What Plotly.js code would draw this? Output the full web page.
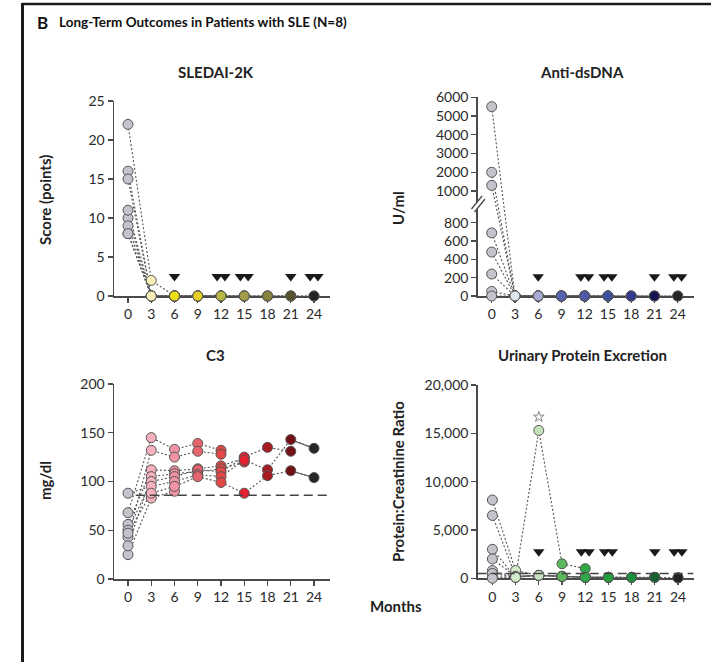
<!DOCTYPE html>
<html><head><meta charset="utf-8">
<script src="https://cdn.plot.ly/plotly-3.0.1.min.js"></script>
<style>body{margin:0;background:#fff}#chart{width:711px;height:662px}</style>
</head><body><div id="chart"></div><script>
// ---- data ----
const months = [0, 3, 6, 9, 12, 15, 18, 21, 24];
const endMonths = [6, 12, 12, 15, 15, 21, 24, 24]; // last follow-up per patient (triangles)

// SLEDAI-2K score per patient (values at months 0,3,6,...)
const sledai = [
  [8, 0, 0],
  [10, 0, 0, 0, 0],
  [16, 0, 0, 0, 0],
  [22, 2, 0, 0, 0, 0],
  [15, 0, 0, 0, 0, 0],
  [11, 0, 0, 0, 0, 0, 0, 0],
  [9, 0, 0, 0, 0, 0, 0, 0, 0],
  [8, 0, 0, 0, 0, 0, 0, 0, 0]
];
// Anti-dsDNA U/ml
const dsdna = [
  [240, 0, 0],
  [5500, 0, 0, 0, 0],
  [50, 0, 0, 0, 0],
  [2000, 0, 0, 0, 0, 0],
  [690, 0, 0, 0, 0, 0],
  [1300, 0, 0, 0, 0, 0, 0, 0],
  [480, 0, 0, 0, 0, 0, 0, 0, 0],
  [0, 0, 0, 0, 0, 0, 0, 0, 0]
];
// C3 mg/dl
const c3 = [
  [25, 83, 90],
  [68, 145, 133, 139, 132],
  [43, 132, 125, 131, 128],
  [56, 112, 111, 113, 116, 124],
  [34, 105, 108, 110, 113, 120],
  [50, 100, 105, 112, 110, 125, 135, 131],
  [88, 95, 100, 107, 105, 122, 112, 143, 134],
  [47, 88, 95, 105, 99, 88, 106, 111, 104]
];
// Urinary protein:creatinine ratio
const upcr = [
  [3000, 100, 300],
  [800, 150, 15300, 1500, 1000],
  [100, 200, 300, 200, 100],
  [8100, 800, 300, 200, 100, 100],
  [6500, 200, 300, 200, 100, 100],
  [2000, 200, 300, 200, 100, 100, 100, 100],
  [500, 150, 300, 200, 100, 100, 100, 100, 50],
  [0, 100, 300, 200, 100, 100, 100, 100, 50]
];
const c3Normal = 86;
const upcrNormal = 500;
const starMonth = [6];
const starValue = [16700];

const dsTicks = [0, 200, 400, 600, 800, 1000, 2000, 3000, 4000, 5000, 6000];
const c3Ticks = [0, 50, 100, 150, 200];
const sledaiTicks = [0, 5, 10, 15, 20, 25];
const upcrTicks = [0, 5000, 10000, 15000, 20000];

// ---- colours per month ----
const sledaiColors = ['#c4c4cc', '#f7f1b9', '#ece014', '#e5cf22', '#b8b642', '#a29e47', '#86833f', '#5a5230', '#222222'];
const dsdnaColors  = ['#c4c4cc', '#dfe6f2', '#a9a9d6', '#5563b1', '#5059a7', '#3f4fa2', '#34398f', '#14144f', '#252525'];
const c3Colors     = ['#c4c4cc', '#f6b0be', '#f093a4', '#e8646c', '#e14846', '#e4222f', '#a81c22', '#741116', '#262626'];
const upcrColors   = ['#c4c4cc', '#d2ecca', '#c4e3bc', '#5cb85c', '#30a848', '#22a040', '#1d9040', '#1a6030', '#222222'];

// broken-axis transform for anti-dsDNA
function dsY(v) { return v <= 900 ? v : 1147.5 + (v - 1000) * 0.2048; }

const W = 711, H = 662;
const px = p => p / W, py = p => 1 - p / H;
const FONT = 'Lato, "Open Sans", sans-serif';

const traces = [];
function addPanel(data, colors, xa, ya, tf) {
  tf = tf || (v => v);
  data.forEach(vals => {
    traces.push({
      x: months.slice(0, vals.length), y: vals.map(tf), xaxis: xa, yaxis: ya,
      mode: 'lines', line: {color: '#555', width: 1.1, dash: '2px,2px'},
      hoverinfo: 'skip', showlegend: false, cliponaxis: false
    });
  });
}
function addMarkers(data, colors, xa, ya, tf) {
  tf = tf || (v => v);
  data.forEach(vals => {
    traces.push({
      x: months.slice(0, vals.length), y: vals.map(tf), xaxis: xa, yaxis: ya,
      mode: 'markers',
      marker: {size: 10, color: colors.slice(0, vals.length), line: {color: '#555', width: 1}},
      hoverinfo: 'x+y', showlegend: false, cliponaxis: false
    });
  });
}
function addTriangles(xa, ya, yval) {
  const xs = [];
  const counts = {};
  endMonths.forEach(m => counts[m] = (counts[m] || 0) + 1);
  Object.keys(counts).forEach(k => {
    const m = +k, n = counts[k];
    for (let i = 0; i < n; i++) xs.push(m + (n === 1 ? 0 : (i - (n - 1) / 2) * 1.0));
  });
  traces.push({
    x: xs, y: xs.map(() => yval), xaxis: xa, yaxis: ya, mode: 'markers',
    marker: {symbol: 'triangle-down', size: 10, color: '#1a1a1a'},
    hoverinfo: 'skip', showlegend: false, cliponaxis: false
  });
}

addPanel(sledai, sledaiColors, 'x', 'y');
addPanel(dsdna, dsdnaColors, 'x2', 'y2', dsY);
addPanel(c3, c3Colors, 'x3', 'y3');
c3.forEach(vals => {
  if (vals.length === months.length) {
    traces.push({x: months.slice(7, 9), y: vals.slice(7, 9), xaxis: 'x3', yaxis: 'y3',
      mode: 'lines', line: {color: '#666', width: 1.2}, hoverinfo: 'skip', showlegend: false});
  }
});
addPanel(upcr, upcrColors, 'x4', 'y4');

addMarkers(sledai, sledaiColors, 'x', 'y');
addMarkers(dsdna, dsdnaColors, 'x2', 'y2', dsY);
addMarkers(c3, c3Colors, 'x3', 'y3');
addMarkers(upcr, upcrColors, 'x4', 'y4');

addTriangles('x', 'y', 2.5);
addTriangles('x2', 'y2', 210);
addTriangles('x4', 'y4', 2750);

traces.push({x: starMonth, y: starValue, xaxis: 'x4', yaxis: 'y4', mode: 'markers',
  marker: {symbol: 'star-open', size: 8, color: '#888', line: {width: 1, color: '#888'}},
  hoverinfo: 'skip', showlegend: false});

const axBase = {
  showline: true, linecolor: '#4a4a4a', linewidth: 1.5, ticks: 'outside', ticklen: 5,
  tickwidth: 1.3, tickcolor: '#4a4a4a', showgrid: false, zeroline: false,
  tickfont: {family: FONT, size: 14, color: '#2a2a2a'}, layer: 'below traces', fixedrange: true
};
const xBase = Object.assign({}, axBase, {tickvals: months, ticktext: months.map(String)});

const layout = {
  width: W, height: H, autosize: false, margin: {l: 0, r: 0, t: 0, b: 0},
  paper_bgcolor: '#fff', plot_bgcolor: 'rgba(0,0,0,0)', showlegend: false,
  xaxis:  Object.assign({}, xBase, {domain: [px(114), px(330)], range: [-1.806, 26.06], anchor: 'y'}),
  yaxis:  Object.assign({}, axBase, {domain: [py(296), py(101)], range: [0, 25], tickvals: sledaiTicks, anchor: 'x'}),
  xaxis2: Object.assign({}, xBase, {domain: [px(477.7), px(693.5)], range: [-1.806, 26.04], anchor: 'y2'}),
  yaxis2: Object.assign({}, axBase, {domain: [py(296), py(97.3)], range: [0, dsY(6000)],
           tickvals: dsTicks.map(dsY), ticktext: dsTicks.map(String), anchor: 'x2'}),
  xaxis3: Object.assign({}, xBase, {domain: [px(114), px(330)], range: [-1.806, 26.06], anchor: 'y3'}),
  yaxis3: Object.assign({}, axBase, {domain: [py(579), py(384)], range: [0, 200], tickvals: c3Ticks, anchor: 'x3'}),
  xaxis4: Object.assign({}, xBase, {domain: [px(477.7), px(693.5)], range: [-1.9, 26.0], anchor: 'y4'}),
  yaxis4: Object.assign({}, axBase, {domain: [py(578.3), py(385)], range: [0, 20000], tickvals: upcrTicks,
           tickformat: ',', anchor: 'x4'}),
  shapes: [
    {type: 'line', xref: 'paper', yref: 'paper', x0: px(22), x1: 1, y0: py(4), y1: py(4), line: {color: '#1a1a1a', width: 2.5}},
    {type: 'line', xref: 'paper', yref: 'paper', x0: px(22.5), x1: px(22.5), y0: py(3), y1: 0, line: {color: '#1a1a1a', width: 3}},
    {type: 'line', xref: 'x3', yref: 'y3', x0: 1, x1: 26, y0: c3Normal, y1: c3Normal, line: {color: '#444', width: 1.5, dash: '9px,5px'}},
    {type: 'line', xref: 'x4', yref: 'y4', x0: -1.9, x1: 26, y0: upcrNormal, y1: upcrNormal, line: {color: '#444', width: 1.5, dash: '9px,5px'}},
    {type: 'line', xref: 'paper', yref: 'paper', x0: px(473), x1: px(484), y0: py(211), y1: py(197), line: {color: '#fff', width: 4}},
    {type: 'line', xref: 'paper', yref: 'paper', x0: px(471.5), x1: px(482), y0: py(209), y1: py(196), line: {color: '#4a4a4a', width: 1.3}},
    {type: 'line', xref: 'paper', yref: 'paper', x0: px(474.5), x1: px(485), y0: py(212), y1: py(199), line: {color: '#4a4a4a', width: 1.3}}
  ],
  annotations: []
};

function ann(text, x, y, opts) {
  layout.annotations.push(Object.assign({
    text: text, xref: 'paper', yref: 'paper', x: px(x), y: py(y), showarrow: false,
    xanchor: 'center', yanchor: 'middle', font: {family: FONT, size: 15, color: '#222'}
  }, opts || {}));
}
ann('<b>B</b>', 35, 22, {xanchor: 'left', font: {family: FONT, size: 17, color: '#111'}});
ann('<b>Long-Term Outcomes in Patients with SLE (N=8)</b>', 57, 22, {xanchor: 'left', font: {family: FONT, size: 13.5, color: '#111'}});
ann('<b>SLEDAI-2K</b>', 216, 72);
ann('<b>Anti-dsDNA</b>', 582, 72);
ann('<b>C3</b>', 215, 355);
ann('<b>Urinary Protein Excretion</b>', 582, 355);
ann('<b>Months</b>', 396, 606);
ann('<b>Score (points)</b>', 45, 200, {textangle: -90});
ann('<b>mg/dl</b>', 45, 481, {textangle: -90});
ann('<b>U/ml</b>', 398, 208, {textangle: -90});
ann('<b>Protein:Creatinine Ratio</b>', 398, 482, {textangle: -90});

Plotly.newPlot('chart', traces, layout, {displayModeBar: false, staticPlot: true});
</script></body></html>
